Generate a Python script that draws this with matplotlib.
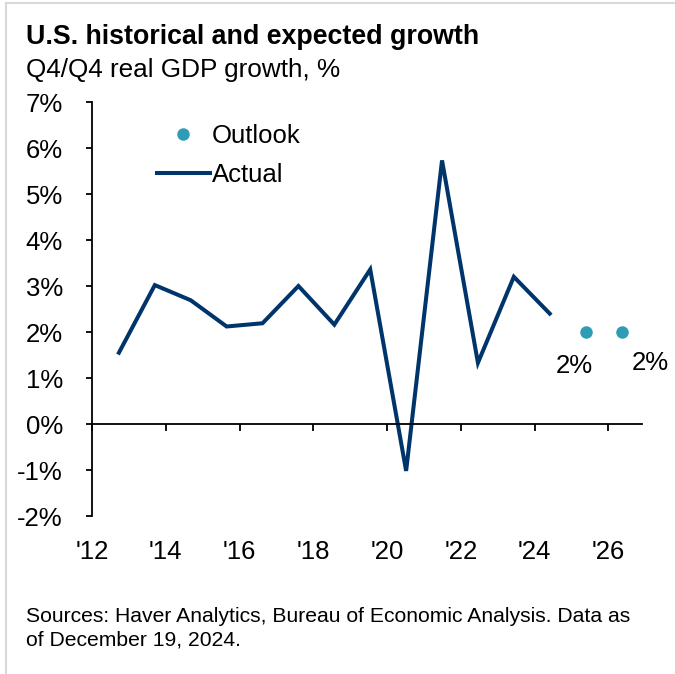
import matplotlib
matplotlib.use("Agg")
import matplotlib.pyplot as plt
from matplotlib.lines import Line2D

plt.rcParams["font.family"] = ["Liberation Sans", "DejaVu Sans"]

# Données : croissance du PIB réel Q4/Q4 (%)
years_actual = [2012, 2013, 2014, 2015, 2016, 2017, 2018, 2019, 2020, 2021, 2022, 2023, 2024]
growth_actual = [1.55, 3.02, 2.69, 2.12, 2.19, 3.0, 2.16, 3.36, -1.02, 5.73, 1.33, 3.2, 2.4]
years_outlook = [2025, 2026]
growth_outlook = [2.0, 2.0]
outlook_labels = ["2%", "2%"]
tick_labels = ["'12", "'14", "'16", "'18", "'20", "'22", "'24", "'26"]
y_ticks = [-2, -1, 0, 1, 2, 3, 4, 5, 6, 7]

navy = "#00356B"
teal = "#2E9CB5"
fs = 18.5

W, H = 675, 674
fig = plt.figure(figsize=(6.75, 6.74), dpi=100)
ax = fig.add_axes([92 / W, 1 - 516 / H, (642 - 92) / W, (516 - 102) / H])

ax.plot(years_actual, growth_actual, color=navy, lw=2.9, solid_joinstyle="miter")
ax.plot(years_outlook, growth_outlook, "o", color=teal, ms=9, mec="none")

# étiquettes des points de prévision (décalées comme sur l'original)
offsets = [(-11, -34), (29, -31)]
for x, y, lab, off in zip(years_outlook, growth_outlook, outlook_labels, offsets):
    ax.annotate(lab, (x, y), xytext=off, textcoords="offset pixels",
                ha="center", va="center", fontsize=fs)

ax.set_xlim(2011.25, 2026.57)
ax.set_ylim(-2, 7)

ax.spines["top"].set_visible(False)
ax.spines["right"].set_visible(False)
ax.spines["bottom"].set_position(("data", 0))
for s in ["left", "bottom"]:
    ax.spines[s].set_linewidth(1.3)

ax.set_yticks(y_ticks)
ax.set_yticklabels([f"{v}%" for v in y_ticks])
ax.tick_params(axis="y", direction="out", length=4, width=1.3, labelsize=fs, pad=17)

tick_pos = [2011.25 + 2.055 * i for i in range(len(tick_labels))]
ax.set_xticks(tick_pos)
ax.tick_params(axis="x", direction="out", length=5, width=1.3, labelbottom=False)

sec = ax.secondary_xaxis("bottom")
sec.set_xticks(tick_pos)
sec.set_xticklabels(tick_labels)
sec.tick_params(length=0, labelsize=fs, pad=17)
sec.spines["bottom"].set_visible(False)

handles = [
    Line2D([], [], marker="o", color=teal, ls="none", ms=9, mec="none"),
    Line2D([], [], color=navy, lw=2.9),
]
fig.legend(handles, ["Outlook", "Actual"], loc="upper left",
           bbox_to_anchor=(157 / W, 1 - 124 / H), frameon=False, fontsize=fs,
           handlelength=2.06, handletextpad=0.08, labelspacing=0.57,
           borderpad=0, borderaxespad=0)

fig.text(26 / W, 1 - 37 / H, "U.S. historical and expected growth",
         fontsize=19.3, fontweight="bold", va="center")
fig.text(26 / W, 1 - 70 / H, "Q4/Q4 real GDP growth, %", fontsize=18.8, va="center")
fig.text(26 / W, 1 - 628 / H,
         "Sources: Haver Analytics, Bureau of Economic Analysis. Data as\nof December 19, 2024.",
         fontsize=15.2, va="center", linespacing=1.3)

# bordure grise en haut et à gauche
fig.add_artist(Line2D([6 / W, 1], [1 - 3 / H, 1 - 3 / H], color="#D9D9D9", lw=1.5))
fig.add_artist(Line2D([6 / W, 6 / W], [0, 1 - 3 / H], color="#D9D9D9", lw=1.5))

fig.savefig("out.png", dpi=100)
